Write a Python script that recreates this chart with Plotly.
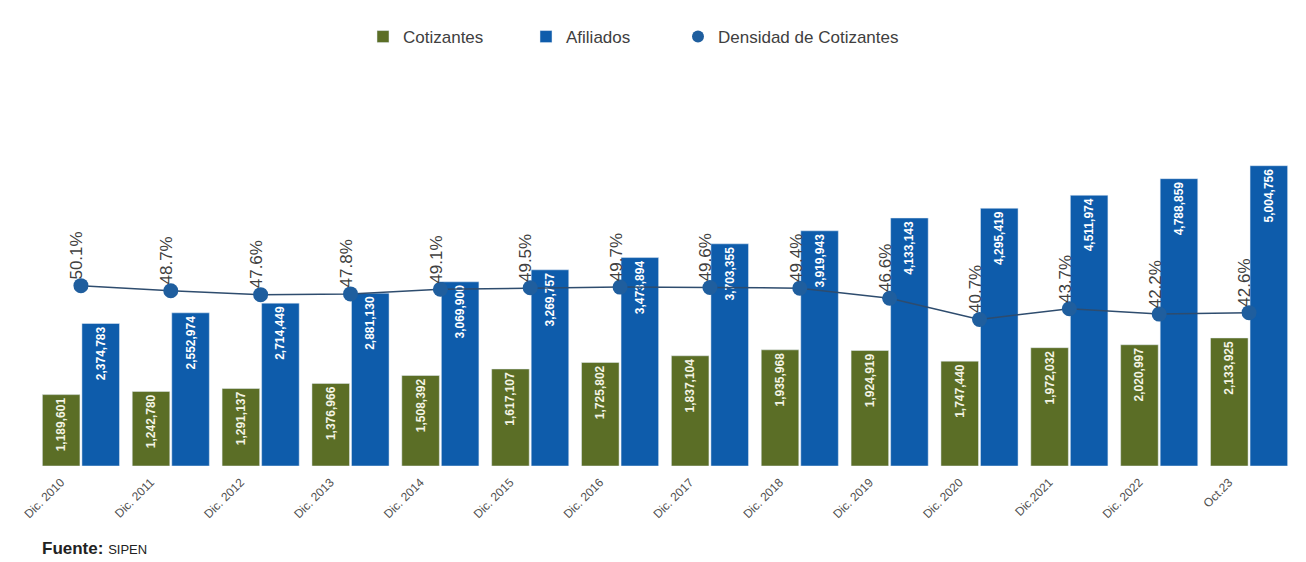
import plotly.graph_objects as go

categories = ["Dic. 2010", "Dic. 2011", "Dic. 2012", "Dic. 2013", "Dic. 2014", "Dic. 2015",
              "Dic. 2016", "Dic. 2017", "Dic. 2018", "Dic. 2019", "Dic. 2020", "Dic.2021",
              "Dic. 2022", "Oct.23"]
cotizantes = [1189601, 1242780, 1291137, 1376966, 1508392, 1617107, 1725802, 1837104,
              1935968, 1924919, 1747440, 1972032, 2020997, 2133925]
afiliados = [2374783, 2552974, 2714449, 2881130, 3069900, 3269757, 3473894, 3703355,
             3919943, 4133143, 4295419, 4511974, 4788859, 5004756]
densidad = [50.1, 48.7, 47.6, 47.8, 49.1, 49.5, 49.7, 49.6, 49.4, 46.6, 40.7, 43.7, 42.2, 42.6]

GREEN = "#5B6E26"
BLUE = "#0E5CAB"
MARK = "#1F5E9E"
FONT = "Liberation Sans, Arial, sans-serif"

fig = go.Figure()
fig.add_trace(go.Bar(
    x=categories, y=cotizantes, name="Cotizantes", marker_color=GREEN, legend="legend",
    text=[f"{v:,}" for v in cotizantes], textposition="inside", insidetextanchor="end",
    textangle=-90, textfont=dict(color="#F4F4E4", size=12, family=FONT, weight="bold"),
))
fig.add_trace(go.Bar(
    x=categories, y=afiliados, name="Afiliados", marker_color=BLUE, legend="legend2",
    text=[f"{v:,}" for v in afiliados], textposition="inside", insidetextanchor="end",
    textangle=-90, textfont=dict(color="white", size=12, family=FONT, weight="bold"),
))
fig.add_trace(go.Scatter(
    x=categories, y=densidad, name="Densidad de Cotizantes", yaxis="y2",
    mode="lines+markers", line=dict(color="#2E4C6E", width=1.5),
    marker=dict(color=MARK, size=15), showlegend=False,
))
# legend entry (marker only) for the density series
fig.add_trace(go.Scatter(
    x=[None], y=[None], name="Densidad de Cotizantes", yaxis="y2", mode="markers",
    marker=dict(color=MARK, size=12), legend="legend3",
))

for c, d in zip(categories, densidad):
    fig.add_annotation(x=c, y=d, xref="x", yref="y2", text=f"{d:.1f}%", textangle=-90,
                       showarrow=False, yanchor="bottom", yshift=4, xshift=-4,
                       font=dict(size=17, color="#404040", family=FONT))

fig.add_annotation(x=0.003, y=-0.228, xref="paper", yref="paper", xanchor="left", yanchor="middle",
                   text="<b>Fuente:</b> <span style='font-size:13px'>SIPEN</span>",
                   showarrow=False, font=dict(size=17, color="#222", family=FONT))

leg_common = dict(orientation="h", xref="container", yref="container", y=1 - 29 / 562,
                  yanchor="middle", xanchor="left", font=dict(size=17, color="#404040", family=FONT),
                  bgcolor="rgba(0,0,0,0)")

fig.update_layout(
    width=1306, height=562,
    paper_bgcolor="white", plot_bgcolor="white",
    margin=dict(l=28, r=20, t=98, b=104, autoexpand=False),
    barmode="group", bargap=0.12, bargroupgap=0.05,
    font=dict(family=FONT, color="#404040"),
    legend=dict(x=355 / 1306, **leg_common),
    legend2=dict(x=518 / 1306, **leg_common),
    legend3=dict(x=670 / 1306, **leg_common),
    xaxis=dict(showgrid=False, showline=False, tickangle=-45, ticks="", automargin=False,
               range=[-0.5, len(categories) - 0.5],
               ticklabelshift=-20, ticklabelstandoff=6,
               tickfont=dict(size=12, color="#505050")),
    yaxis=dict(range=[0, 6000000], visible=False, showgrid=False),
    yaxis2=dict(range=[0, 100], overlaying="y", side="right", visible=False, showgrid=False),
    showlegend=True,
)
fig.write_html("out.html")
